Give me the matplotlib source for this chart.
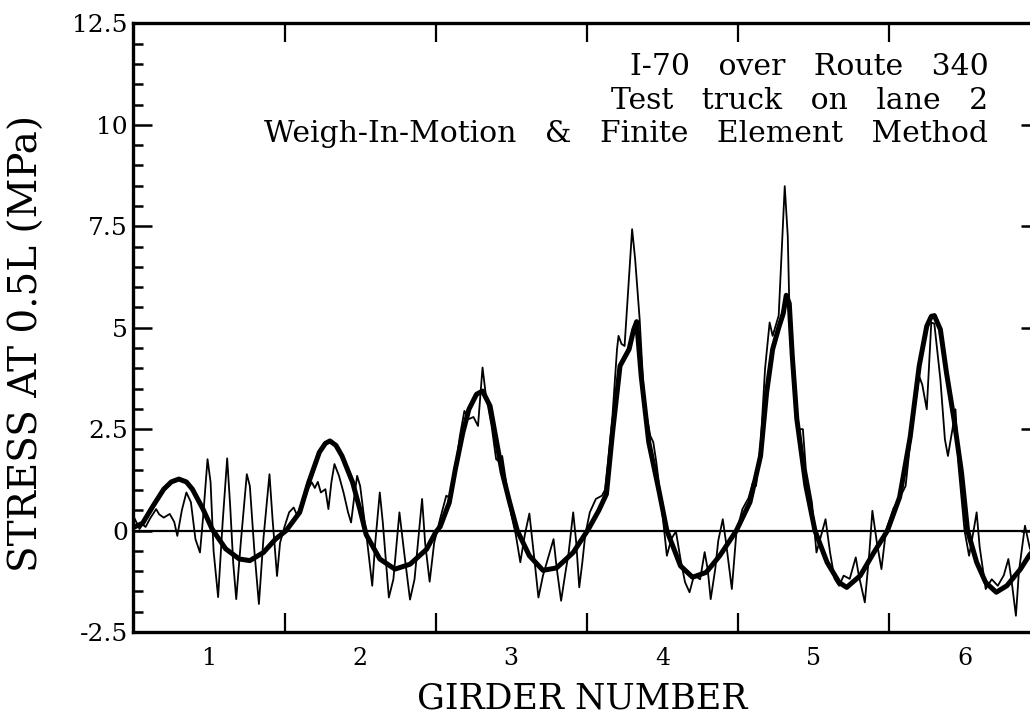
import matplotlib
matplotlib.use("Agg")
import matplotlib.pyplot as plt

plt.rcParams["font.family"] = "DejaVu Serif"

# finite element result (smooth heavy curve)
fem_x = [0.50, 0.56, 0.63, 0.70, 0.75, 0.80, 0.85, 0.89, 0.96, 1.02, 1.11, 1.20, 1.27, 1.36, 1.44,
         1.51, 1.60, 1.66, 1.73, 1.77, 1.80, 1.84, 1.88, 1.95, 2.00, 2.04, 2.13, 2.23, 2.33, 2.44,
         2.50, 2.53, 2.59, 2.63, 2.68, 2.72, 2.77, 2.81, 2.86, 2.90, 2.94, 2.99, 3.04, 3.12, 3.21,
         3.30, 3.41, 3.51, 3.58, 3.63, 3.67, 3.72, 3.78, 3.81, 3.83, 3.86, 3.91, 3.98, 4.03, 4.12,
         4.20, 4.29, 4.38, 4.49, 4.58, 4.65, 4.69, 4.73, 4.77, 4.80, 4.82, 4.84, 4.86, 4.89, 4.95,
         5.01, 5.09, 5.17, 5.22, 5.31, 5.40, 5.49, 5.57, 5.64, 5.70, 5.75, 5.78, 5.80, 5.84, 5.88,
         5.93, 5.98, 6.02, 6.08, 6.14, 6.21, 6.28, 6.37, 6.43, 6.50]
fem_y = [0.08, 0.18, 0.61, 1.02, 1.20, 1.27, 1.20, 1.02, 0.53, 0.04, -0.45, -0.70, -0.74, -0.54, -0.21,
         0.00, 0.45, 1.19, 1.93, 2.15, 2.21, 2.10, 1.84, 1.19, 0.50, -0.10, -0.70, -0.95, -0.83, -0.46,
         -0.04, 0.10, 0.69, 1.51, 2.42, 2.99, 3.36, 3.44, 3.07, 2.25, 1.43, 0.69, 0.00, -0.62, -0.98,
         -0.92, -0.54, 0.03, 0.50, 0.90, 2.40, 4.06, 4.47, 4.95, 5.15, 3.81, 2.18, 0.94, 0.00, -0.87,
         -1.15, -1.03, -0.62, 0.00, 0.70, 1.84, 3.40, 4.47, 5.00, 5.35, 5.80, 5.60, 4.30, 2.75, 1.10,
         0.00, -0.78, -1.28, -1.40, -1.11, -0.54, 0.00, 0.82, 2.30, 4.06, 5.04, 5.28, 5.30, 4.96, 3.90,
         2.75, 1.43, 0.00, -0.78, -1.28, -1.52, -1.36, -0.95, -0.60, -0.30]

# weigh-in-motion measurement (light, noisy curve)
wim_x = [0.50, 0.52, 0.54, 0.56, 0.58, 0.61, 0.65, 0.67, 0.70, 0.74, 0.77, 0.79, 0.82, 0.85, 0.88,
         0.91, 0.94, 0.96, 0.99, 1.01, 1.03, 1.06, 1.09, 1.12, 1.14, 1.16, 1.18, 1.21, 1.25, 1.27,
         1.30, 1.33, 1.36, 1.40, 1.42, 1.45, 1.47, 1.50, 1.53, 1.56, 1.58, 1.62, 1.65, 1.68, 1.70,
         1.72, 1.74, 1.77, 1.79, 1.81, 1.83, 1.86, 1.89, 1.92, 1.94, 1.96, 1.98, 2.00, 2.02, 2.05,
         2.08, 2.10, 2.13, 2.15, 2.19, 2.22, 2.26, 2.29, 2.33, 2.36, 2.41, 2.43, 2.46, 2.49, 2.53,
         2.57, 2.60, 2.63, 2.66, 2.69, 2.72, 2.75, 2.78, 2.81, 2.83, 2.87, 2.90, 2.92, 2.94, 2.97,
         3.00, 3.03, 3.06, 3.09, 3.12, 3.15, 3.18, 3.21, 3.25, 3.28, 3.30, 3.33, 3.36, 3.38, 3.41,
         3.43, 3.45, 3.47, 3.49, 3.52, 3.56, 3.60, 3.62, 3.64, 3.67, 3.70, 3.71, 3.73, 3.75, 3.78,
         3.80, 3.82, 3.85, 3.88, 3.92, 3.94, 3.96, 3.99, 4.03, 4.06, 4.09, 4.12, 4.15, 4.18, 4.21,
         4.25, 4.28, 4.30, 4.32, 4.35, 4.37, 4.40, 4.42, 4.46, 4.49, 4.53, 4.57, 4.60, 4.62, 4.65,
         4.68, 4.71, 4.73, 4.77, 4.81, 4.83, 4.84, 4.87, 4.90, 4.93, 4.95, 4.99, 5.02, 5.05, 5.08,
         5.11, 5.14, 5.17, 5.20, 5.24, 5.28, 5.30, 5.34, 5.37, 5.39, 5.42, 5.45, 5.48, 5.53, 5.57,
         5.61, 5.65, 5.70, 5.72, 5.75, 5.78, 5.80, 5.84, 5.87, 5.89, 5.92, 5.94, 5.96, 6.00, 6.03,
         6.06, 6.08, 6.10, 6.14, 6.18, 6.22, 6.26, 6.29, 6.31, 6.34, 6.36, 6.40, 6.43, 6.47, 6.50]
wim_y = [0.35, 0.20, 0.04, 0.15, 0.09, 0.30, 0.53, 0.40, 0.32, 0.41, 0.21, -0.13, 0.50, 0.94, 0.70,
         -0.21, -0.54, 0.30, 1.76, 1.20, -0.50, -1.64, 0.20, 1.78, 0.60, -0.80, -1.69, -0.30, 1.39, 1.10,
         -0.50, -1.81, -0.20, 1.39, 0.30, -1.12, -0.30, 0.10, 0.45, 0.57, 0.40, 0.61, 1.00, 1.19, 1.05,
         1.20, 0.94, 1.02, 0.53, 1.20, 1.64, 1.35, 0.94, 0.45, 0.20, 0.80, 1.35, 1.10, 0.50, -0.38,
         -1.36, -0.30, 0.94, 0.20, -1.65, -1.20, 0.45, -0.50, -1.70, -1.20, 0.78, -0.30, -1.26, -0.30, 0.30,
         0.86, 0.80, 1.51, 2.33, 2.95, 2.75, 2.80, 2.58, 4.02, 3.40, 2.58, 1.76, 1.70, 1.84, 1.10,
         0.40, -0.10, -0.78, -0.10, 0.42, -0.60, -1.65, -1.11, -0.60, -0.21, -0.90, -1.73, -1.00, -0.54, 0.45,
         -0.29, -1.40, -0.80, -0.10, 0.45, 0.78, 0.86, 1.00, 1.68, 2.83, 4.47, 4.80, 4.60, 4.55, 6.28,
         7.43, 6.69, 5.20, 3.16, 2.34, 2.18, 1.69, 0.78, -0.62, -0.20, -0.02, -0.70, -1.27, -1.52, -1.10,
         -1.20, -0.53, -0.95, -1.69, -0.95, -0.25, 0.28, -0.25, -1.44, -0.05, 0.53, 0.80, 1.20, 1.10, 2.10,
         4.00, 5.13, 4.80, 5.30, 8.49, 7.26, 5.62, 3.97, 2.50, 2.50, 1.51, 0.69, -0.54, -0.13, 0.28,
         -0.54, -1.19, -1.36, -1.11, -1.19, -0.66, -1.10, -1.77, -0.54, 0.49, -0.30, -0.95, 0.00, 0.55, 0.80,
         1.10, 2.50, 3.80, 3.60, 2.99, 5.13, 5.10, 3.73, 2.25, 1.84, 2.50, 2.99, 1.60, 0.00, -0.62,
         0.00, 0.45, -0.40, -1.44, -1.20, -1.36, -1.10, -0.70, -1.20, -2.10, -1.00, 0.12, -0.40, -0.90, -1.00]

girders = [1, 2, 3, 4, 5, 6]
girder_labels = ["1", "2", "3", "4", "5", "6"]
y_major = [-2.5, 0, 2.5, 5, 7.5, 10, 12.5]
y_labels = ["-2.5", "0", "2.5", "5", "7.5", "10", "12.5"]
notes = ["I-70   over   Route   340",
         "Test   truck   on   lane   2",
         "Weigh-In-Motion   &   Finite   Element   Method"]

fig = plt.figure(figsize=(10.30, 7.16), dpi=100)
ax = fig.add_axes([0.1296, 0.1173, 0.8802, 0.8499])

ax.axhline(0, color="black", lw=1.6, zorder=1)
ax.plot(wim_x, wim_y, color="black", lw=1.3, zorder=2)
ax.plot(fem_x, fem_y, color="black", lw=3.6, solid_capstyle="round", solid_joinstyle="round", zorder=3)

ax.set_xlim(0.5, 6.5)
ax.set_ylim(-2.5, 12.5)

# ticks sit between girders, labels on the girders themselves
ax.set_xticks([1.5, 2.5, 3.5, 4.5, 5.5])
ax.set_xticklabels([])
ax.set_xticks(girders, minor=True)
ax.set_xticklabels(girder_labels, minor=True, fontsize=17)
ax.tick_params(axis="x", which="major", direction="in", length=14, width=1.6, top=True, bottom=True)
ax.tick_params(axis="x", which="minor", length=0, pad=11)

ax.set_yticks(y_major)
ax.set_yticklabels(y_labels, fontsize=18)
ax.set_yticks([v / 2 for v in range(-5, 26)], minor=True)
ax.tick_params(axis="y", which="major", direction="in", length=14, width=1.8, left=True, right=True, pad=4)
ax.tick_params(axis="y", which="minor", direction="in", length=7, width=1.8, left=True, right=True)

for sp in ax.spines.values():
    sp.set_linewidth(2.4)

ax.set_xlabel("GIRDER NUMBER", fontsize=25)
ax.xaxis.set_label_coords(0.495, -0.082)
ax.set_ylabel("STRESS AT 0.5L (MPa)", fontsize=28)
ax.yaxis.set_label_coords(-0.097, 0.474)

ax.text(0.943, 0.951, "\n".join(notes), transform=ax.transAxes, ha="right", va="top",
        fontsize=21.5, linespacing=1.25, multialignment="right")

fig.savefig("out.png", dpi=100, facecolor="white")
